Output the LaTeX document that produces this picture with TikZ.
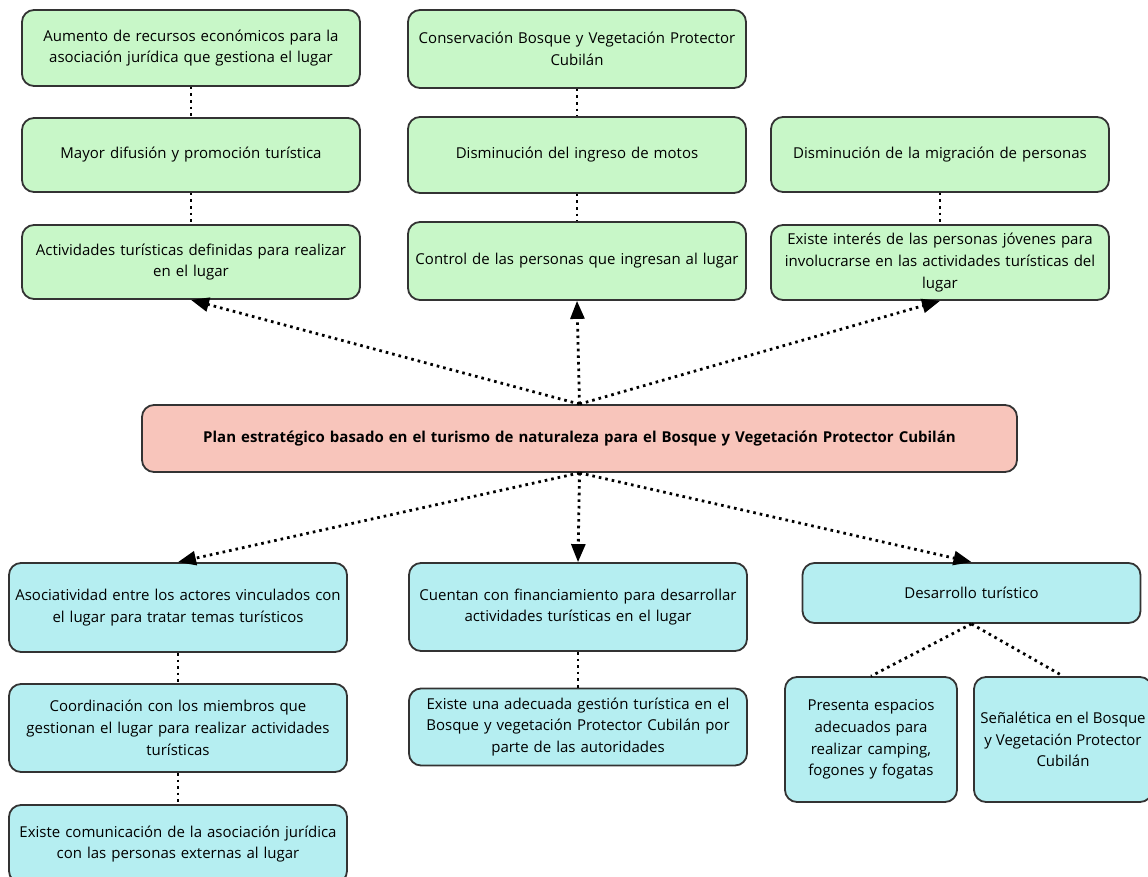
\documentclass[tikz,border=0pt]{standalone}
\usepackage{fontspec}
\setmainfont{Open Sans}
\usetikzlibrary{arrows.meta}

\definecolor{verde}{HTML}{C8F7C8}
\definecolor{celeste}{HTML}{B5EEF1}
\definecolor{rosa}{HTML}{F8C5BB}
\definecolor{borde}{HTML}{333333}

\tikzset{
  caja/.style={draw=borde, line width=1.8pt, rounded corners=12pt, align=center, inner xsep=6pt, inner ysep=0pt, font=\fontsize{15}{21.7}\selectfont},
  ancha/.style={caja, text width=326pt},
  punteado/.style={line width=2.8pt, dash pattern=on 2.6pt off 4pt},
  flecha/.style={punteado, -{Triangle[length=18pt,width=14pt]}}
}

\begin{document}
\begin{tikzpicture}[x=1pt,y=-1pt]
\useasboundingbox (0,0) rectangle (1148,877);
\clip (0,0) rectangle (1148,877);

\path (191,48) node[ancha,fill=verde,minimum height=76pt](Recursos){Aumento de recursos económicos para la\\asociación jurídica que gestiona el lugar}
(191,155) node[ancha,fill=verde,minimum height=74pt](Difusion){Mayor difusión y promoción turística}
(191,262) node[ancha,fill=verde,minimum height=74pt](Actividades){Actividades turísticas definidas para realizar\\en el lugar}
(577,49) node[ancha,fill=verde,minimum height=78pt](Conservacion){Conservación Bosque y Vegetación Protector\\Cubilán}
(577,155) node[ancha,fill=verde,minimum height=76pt](Motos){Disminución del ingreso de motos}
(577,261) node[ancha,fill=verde,minimum height=78pt](Control){Control de las personas que ingresan al lugar}
(940,154.5) node[ancha,fill=verde,minimum height=75pt](Migracion){Disminución de la migración de personas}
(940,262.5) node[ancha,fill=verde,minimum height=75pt](Jovenes){Existe interés de las personas jóvenes para\\involucrarse en las actividades turísticas del\\lugar};

\path (579.5,438.5) node[caja,fill=rosa,text width=863pt,minimum height=67pt,font=\fontsize{15}{21.7}\selectfont\bfseries](Plan){Plan estratégico basado en el turismo de naturaleza para el Bosque y Vegetación Protector Cubilán};

\path (178,607.5) node[ancha,fill=celeste,minimum height=89pt](Asociatividad){Asociatividad entre los actores vinculados con\\el lugar para tratar temas turísticos}
(178,728) node[ancha,fill=celeste,minimum height=88pt](Coordinacion){Coordinación con los miembros que\\gestionan el lugar para realizar actividades\\turísticas}
(178,844) node[ancha,fill=celeste,minimum height=78pt](Comunicacion){Existe comunicación de la asociación jurídica\\con las personas externas al lugar}
(578,607) node[ancha,fill=celeste,minimum height=88pt](Financiamiento){Cuentan con financiamiento para desarrollar\\actividades turísticas en el lugar}
(578,727) node[ancha,fill=celeste,minimum height=77pt](Gestion){Existe una adecuada gestión turística en el\\Bosque y vegetación Protector Cubilán por\\parte de las autoridades}
(971.5,593) node[ancha,fill=celeste,minimum height=60pt](Desarrollo){Desarrollo turístico}
(871,739.5) node[caja,fill=celeste,text width=160pt,minimum height=125pt](Espacios){Presenta espacios\\adecuados para\\realizar camping,\\fogones y fogatas}
(1063,739.5) node[caja,fill=celeste,minimum width=178pt,minimum height=125pt](Senaletica){Señalética en el Bosque\\y Vegetación Protector\\Cubilán};

% arriba
\draw[punteado] (Recursos) -- (Difusion);
\draw[punteado] (Difusion) -- (Actividades);
\draw[punteado] (Conservacion) -- (Motos);
\draw[punteado] (Motos) -- (Control);
\draw[punteado] (Migracion) -- (Jovenes);
\draw[flecha] (Plan.north) -- (Actividades.south);
\draw[flecha] (Plan.north) -- (Control.south);
\draw[flecha] (Plan.north) -- (Jovenes.south);

% abajo
\draw[flecha] (Plan.south) -- (Asociatividad.north);
\draw[flecha] (Plan.south) -- (Financiamiento.north);
\draw[flecha] (Plan.south) -- (Desarrollo.north);
\draw[punteado] (Asociatividad) -- (Coordinacion);
\draw[punteado] (Coordinacion) -- (Comunicacion);
\draw[punteado] (Financiamiento) -- (Gestion);
\draw[punteado] (Desarrollo.south) -- (Espacios.north);
\draw[punteado] (Desarrollo.south) -- (Senaletica.north);
\end{tikzpicture}
\end{document}
